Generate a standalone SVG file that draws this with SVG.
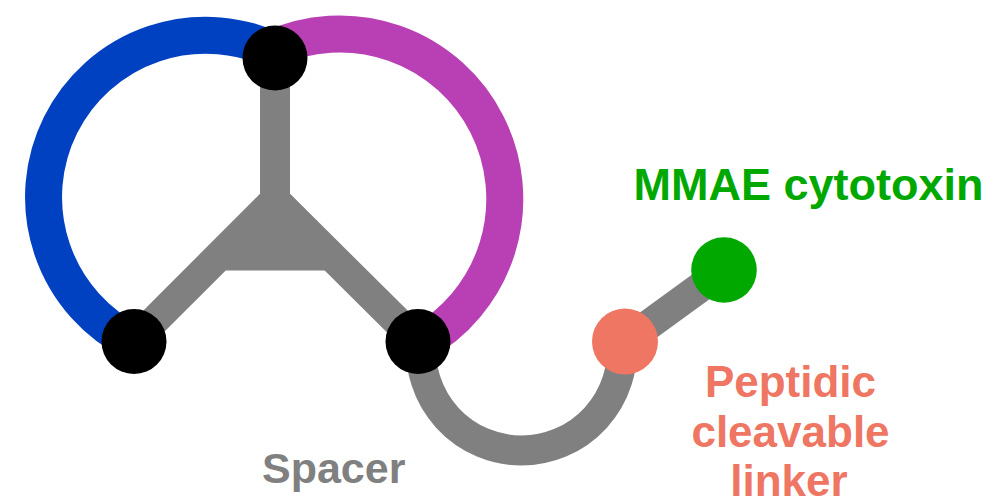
<svg xmlns="http://www.w3.org/2000/svg" width="989" height="501" viewBox="0 0 989 501">
  <style>
    .arc { fill: none; stroke-linecap: butt; }
    .bond { fill: none; stroke: #808080; stroke-width: 30; }
    .node { stroke: none; }
    .label { font-family: "Liberation Sans", Arial, Helvetica, sans-serif; font-weight: bold; }
  </style>
  <rect width="989" height="501" fill="#ffffff"/>

  <g id="connectors">
    <!-- heavy chain loops -->
    <path id="blue-loop" class="arc" stroke="#0041C2" stroke-width="37" d="M 133.3 342.3 A 162 162 0 0 1 277.8 52.2"/>
    <path id="purple-loop" class="arc" stroke="#B83FB4" stroke-width="37" d="M 271 49 A 165 165 0 0 1 419.4 343.5"/>
    <!-- branched core -->
    <line class="bond" x1="275" y1="58" x2="275" y2="200"/>
    <line class="bond" x1="134" y1="341" x2="275" y2="200"/>
    <line class="bond" x1="417" y1="341" x2="275" y2="200"/>
    <polygon fill="#808080" points="260,194 290,194 326.5,270.5 225.5,270.5"/>
    <!-- spacer -->
    <path class="bond" stroke-width="31" d="M 421.4 341 A 100.5 100.5 0 1 0 621.6 341"/>
    <!-- linker to payload -->
    <line class="bond" x1="625" y1="342" x2="724" y2="270"/>
  </g>

  <g id="node-top"><circle class="node" cx="275" cy="58" r="32.5" fill="#000000"/></g>
  <g id="node-left"><circle class="node" cx="134" cy="341.5" r="32.5" fill="#000000"/></g>
  <g id="node-right"><circle class="node" cx="418" cy="341.5" r="32.5" fill="#000000"/></g>
  <g id="node-linker"><circle class="node" cx="625" cy="341.5" r="33" fill="#EE7663"/></g>
  <g id="node-payload"><circle class="node" cx="724" cy="270" r="32.8" fill="#00A800"/></g>

  <g id="labels">
    <text class="label" x="633.5" y="200" font-size="45" fill="#00A800">MMAE cytotoxin</text>
    <text class="label" x="262" y="482.5" font-size="43" fill="#808080">Spacer</text>
    <g fill="#EE7663" font-size="44" text-anchor="middle">
      <text class="label" x="790.5" y="396.5">Peptidic</text>
      <text class="label" x="790.5" y="447">cleavable</text>
      <text class="label" x="789" y="496">linker</text>
    </g>
  </g>
</svg>
